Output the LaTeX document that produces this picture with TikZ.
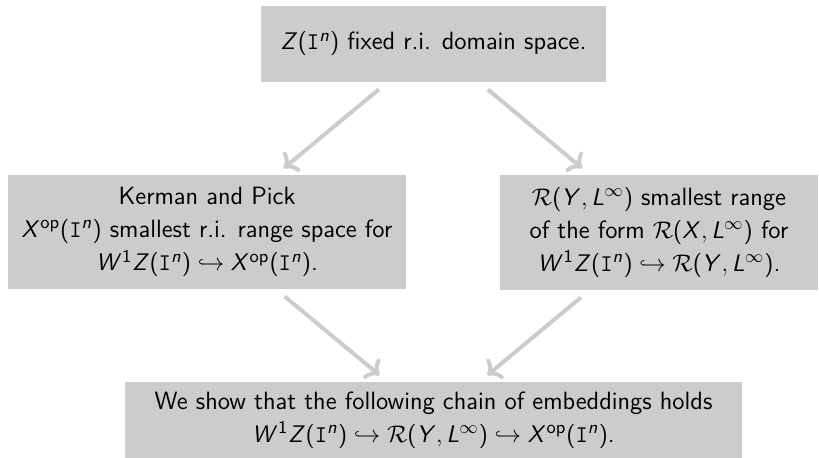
\documentclass[tikz,border=0pt]{standalone}
\usepackage{amsmath,amssymb}
\usepackage{tikz}
\usetikzlibrary{arrows.meta}
\definecolor{boxgray}{HTML}{CCCCCC}
% sans serif math, as on slides
\DeclareSymbolFont{operators}{OT1}{cmss}{m}{n}
\DeclareSymbolFont{sfletters}{OT1}{cmss}{m}{sl}
\DeclareMathSymbol{L}{\mathalpha}{sfletters}{`L}
\DeclareMathSymbol{W}{\mathalpha}{sfletters}{`W}
\DeclareMathSymbol{X}{\mathalpha}{sfletters}{`X}
\DeclareMathSymbol{Y}{\mathalpha}{sfletters}{`Y}
\DeclareMathSymbol{Z}{\mathalpha}{sfletters}{`Z}
\DeclareMathSymbol{n}{\mathalpha}{sfletters}{`n}

\begin{document}
\begin{tikzpicture}[x=0.5pt,y=-0.5pt,font=\fontsize{12.5}{16.6}\selectfont\sffamily,
  block/.style={fill=boxgray,align=center,inner sep=0pt},
  link/.style={-{To[round]},boxgray,line width=2pt,shorten <=5.5pt,shorten >=5pt}]
\useasboundingbox (0,0) rectangle (819,458);
\node[block,minimum width=172.5pt,minimum height=38pt] (dom) at (433.5,44)
  {$Z(\mathtt{I}^n)$ fixed r.i. domain space.};
\node[block,minimum width=199pt,minimum height=57pt] (kp) at (207,232)
  {Kerman and Pick\\ $X^{\mathrm{op}}(\mathtt{I}^n)$ smallest r.i. range space for\\
   $W^1Z(\mathtt{I}^n)\hookrightarrow X^{\mathrm{op}}(\mathtt{I}^n)$.};
\node[block,minimum width=159pt,minimum height=57.5pt] (rng) at (659,232.5)
  {$\mathcal{R}(Y,L^\infty)$ smallest range\\ of the form $\mathcal{R}(X,L^\infty)$ for\\
   $W^1Z(\mathtt{I}^n)\hookrightarrow\mathcal{R}(Y,L^\infty)$.};
\node[block,minimum width=308.5pt,minimum height=38pt] (chain) at (433.5,420)
  {We show that the following chain of embeddings holds\\
   $W^1Z(\mathtt{I}^n)\hookrightarrow\mathcal{R}(Y,L^\infty)\hookrightarrow X^{\mathrm{op}}(\mathtt{I}^n)$.};
\draw[link] (dom) -- (kp);
\draw[link] (dom) -- (rng);
\draw[link] (kp) -- (chain);
\draw[link] (rng) -- (chain);
\end{tikzpicture}
\end{document}
